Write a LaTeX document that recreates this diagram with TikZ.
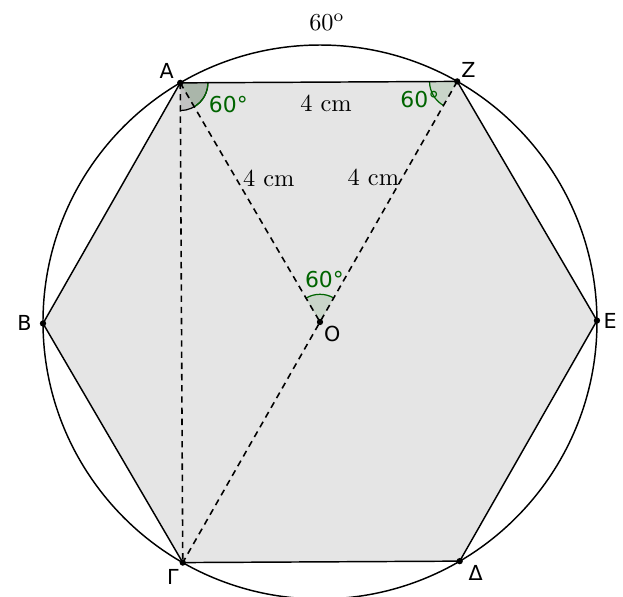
\documentclass[tikz,border=0pt]{standalone}
\usepackage{fontspec}
\newfontfamily\ggbfont{DejaVu Sans}
\usetikzlibrary{angles,calc,positioning}
\definecolor{ggbgreen}{RGB}{0,100,0}

\begin{document}
\begin{tikzpicture}[
    edge/.style={line width=0.6pt},
    dashline/.style={line width=0.65pt, dash pattern=on 2.6pt off 2pt},
    vlabel/.style={font=\ggbfont\fontsize{8.5}{10}\selectfont, inner sep=1.5pt},
    lenlabel/.style={font=\fontsize{10}{12}\selectfont, inner sep=1pt},
    anglbl/.style={font=\ggbfont\fontsize{9}{10}\selectfont, text=ggbgreen, inner sep=0pt},
    greenang/.style={draw=ggbgreen, fill=ggbgreen, fill opacity=0.12, line width=0.5pt, angle radius=0.4cm},
    grayang/.style={draw=black, fill=black, fill opacity=0.15, line width=0.5pt, angle radius=0.4cm},
  ]
  \useasboundingbox (-4.621,-3.957) rectangle (4.376,4.650);

  % --- hexagon vertices on the circle of radius 4 ---
  \coordinate (O) at (0,0);
  \foreach \n/\a in {E/0, Z/60, A/120, B/180, G/240, D/300} {
    \coordinate (\n) at (\a+0.3:4);
  }

  % Hexagon and circle
  \fill[gray!20] (A) -- (Z) -- (E) -- (D) -- (G) -- (B) -- cycle;
  \draw[edge] (O) circle (4);

  % Angle marks
  \pic[grayang] {angle=G--A--Z};
  \pic[greenang] {angle=O--A--Z};
  \pic[greenang] {angle=A--Z--G};
  \pic[greenang] {angle=Z--O--A};

  \draw[edge] (A) -- (Z)
    node[midway, below=4pt, xshift=3pt, lenlabel] (lAZ) {4 cm};
  \draw[edge] (Z) -- (E) -- (D) -- (G) -- (B) -- (A);

  % Dashed lines
  \draw[dashline] (A) -- (O)
    node[pos=0.4, right=1.5pt, lenlabel] (lAO) {4 cm};
  \draw[dashline] (Z) -- (G)
    node[pos=0.2, left=0pt, lenlabel] (lZO) {4 cm};
  \draw[dashline] (A) -- (G);

  % Points
  \foreach \n in {A, Z, E, D, G, B, O} {
    \fill (\n) circle (1.3pt);
  }

  % Vertex labels
  \node[vlabel, above left=0pt and 1pt of A] (lA) {A};
  \node[vlabel, above right=0pt and 0pt of Z] (lZ) {Z};
  \node[vlabel, right=1pt of E] (lE) {E};
  \node[vlabel, below right=0pt and 2pt of D] (lD) {Δ};
  \node[vlabel, below left=1pt and 0pt of G] (lG) {Γ};
  \node[vlabel, left=3pt of B] (lB) {B};
  \node[vlabel, below right=0pt and 0pt of O] (lO) {O};

  % Angle labels
  \node[anglbl] (aA) at ($(A)+(-24:0.76)$) {60°};
  \node[anglbl] (aZ) at ($(Z)+(206:0.6)$) {60°};
  \node[anglbl] (aO) at ($(O)+(84:0.62)$) {60°};

  % Arc label
  \node[lenlabel] (arc) at (0.1,4.33) {$60^{\mathrm{o}}$};
\end{tikzpicture}
\end{document}
